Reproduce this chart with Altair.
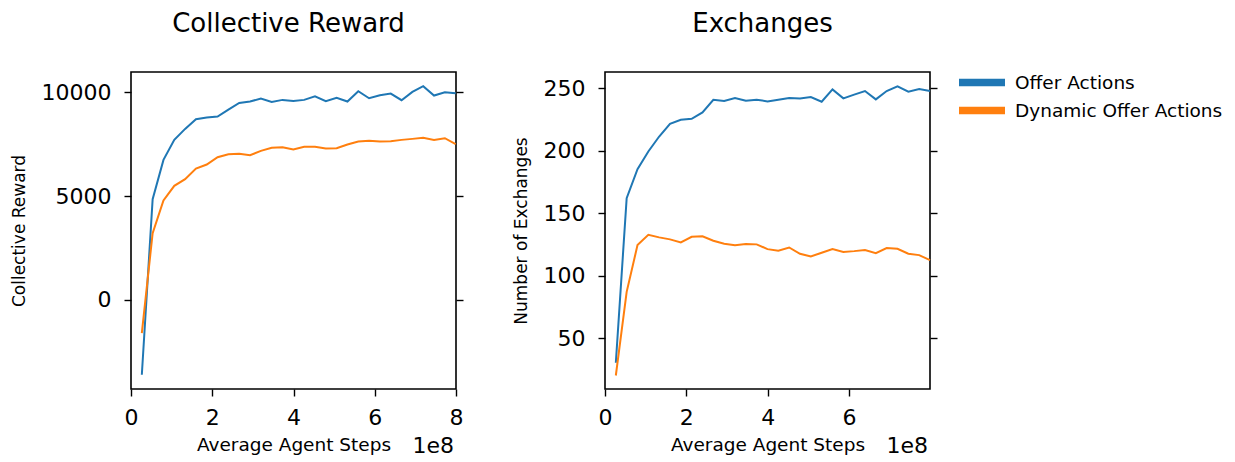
import altair as alt
import pandas as pd

series_names = ["Offer Actions", "Dynamic Offer Actions"]
series_colors = ["#1f77b4", "#ff7f0e"]

steps = [k * 0.2664e8 for k in range(1, 31)]

reward_offer = [-3610, 4848, 6742, 7705, 8234, 8700, 8780, 8828, 9165, 9486,
                9551, 9695, 9535, 9631, 9583, 9631, 9807, 9567, 9727, 9551,
                10048, 9711, 9856, 9936, 9615, 10016, 10289, 9840, 10000, 9952]
reward_dynamic = [-1604, 3211, 4784, 5490, 5811, 6325, 6517, 6870, 7015, 7031,
                  6967, 7175, 7320, 7352, 7239, 7368, 7368, 7288, 7304, 7480,
                  7625, 7657, 7625, 7641, 7705, 7753, 7801, 7705, 7785, 7496]

exch_offer = [30.2, 161.8, 185.0, 199.2, 211.2, 221.4, 224.6, 225.4, 230.5, 240.6,
              239.6, 242.0, 239.8, 240.6, 239.3, 240.6, 242.0, 241.7, 242.8, 239.0,
              248.9, 241.7, 244.7, 247.6, 240.9, 247.6, 251.3, 247.1, 249.2, 247.6]
exch_dynamic = [20.0, 86.9, 124.3, 132.6, 130.5, 128.9, 126.5, 131.0, 131.3, 127.8,
                125.4, 124.3, 125.1, 124.9, 121.1, 119.8, 122.4, 117.4, 115.2, 118.2,
                121.1, 118.9, 119.5, 120.3, 117.9, 121.9, 121.4, 117.4, 116.3, 112.3]

x_ticks = [0, 2e8, 4e8, 6e8, 8e8]
reward_ticks = [0, 5000, 10000]
exch_ticks = [50, 100, 150, 200, 250]

FONT = "DejaVu Sans"
W, H = 325, 317


def make_df(a, b):
    rows = []
    for s, arr in zip(series_names, [a, b]):
        for x, v in zip(steps, arr):
            rows.append({"step": x, "value": v, "series": s})
    return pd.DataFrame(rows)


color = alt.Color(
    "series:N",
    scale=alt.Scale(domain=series_names, range=series_colors),
    legend=alt.Legend(
        title=None, orient="none", legendX=818.5, legendY=1, padding=0,
        symbolType="M0,0H8", symbolSize=132.25, symbolStrokeWidth=7.3,
        labelFontSize=18.5, labelFont=FONT, labelColor="black", labelLimit=0,
        labelOffset=46.5, rowPadding=9, clipHeight=19,
    ),
)


def panel(df, title, ytitle, ydomain, yticks, xmax):
    xs = alt.X(
        "step:Q",
        scale=alt.Scale(domain=[0, xmax], nice=False, zero=False),
        axis=alt.Axis(values=x_ticks, labelExpr="datum.value / 1e8",
                      labelFlush=False,
                      title="Average Agent Steps", titleFontSize=18.5,
                      titlePadding=7, labelPadding=11),
    )
    ysc = alt.Scale(domain=ydomain, nice=False, zero=False)
    line = alt.Chart(df).mark_line(strokeWidth=2).encode(
        x=xs,
        y=alt.Y("value:Q", scale=ysc,
                axis=alt.Axis(values=yticks, format="d", title=ytitle,
                              titleFontSize=17, titlePadding=13, labelPadding=13)),
        color=color,
    )
    ghost = alt.Chart(df).mark_point(opacity=0).encode(
        x=xs,
        y=alt.Y("value:Q", scale=ysc,
                axis=alt.Axis(values=yticks, orient="right", labels=False,
                              title=None)),
    )
    txt = alt.Chart(pd.DataFrame({"t": ["1e8"]})).mark_text(
        align="right", baseline="middle", fontSize=22, font=FONT, color="black"
    ).encode(text="t:N", x=alt.value(W - 2), y=alt.value(374))
    return alt.layer(line, ghost, txt).resolve_axis(y="independent").properties(
        width=W, height=H,
        title=alt.TitleParams(title, fontSize=26, font=FONT, fontWeight="normal",
                              offset=35, color="black", dx=-5),
    )


left = panel(make_df(reward_offer, reward_dynamic), "Collective Reward",
             "Collective Reward", [-4294, 10974], reward_ticks, 8e8)
right = panel(make_df(exch_offer, exch_dynamic), "Exchanges",
              "Number of Exchanges", [9.2, 262.8], exch_ticks, 7.992e8)

chart = alt.hconcat(left, right, spacing=46).resolve_scale(
    x="independent", y="independent", color="shared"
).properties(
    padding={"left": 1, "top": 2, "right": 0, "bottom": 0},
    background="white",
).configure(
    font=FONT
).configure_view(
    stroke="black", strokeWidth=1.6
).configure_axis(
    grid=False, domain=False, ticks=True, tickColor="black", tickWidth=1.4,
    tickSize=7, labelFont=FONT, labelFontSize=22, labelColor="black",
    titleFont=FONT, titleFontWeight="normal", titleColor="black",
)

chart.save("out.html", embed_options={"renderer": "svg", "actions": False})
